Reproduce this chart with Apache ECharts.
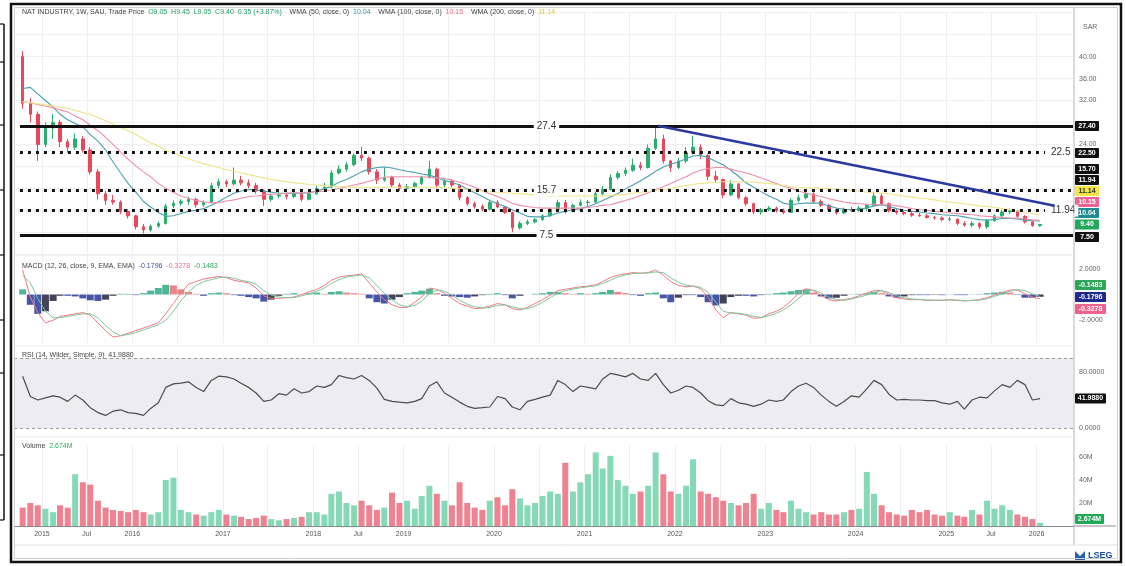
<!DOCTYPE html>
<html><head><meta charset="utf-8">
<script src="https://cdn.jsdelivr.net/npm/echarts@6/dist/echarts.min.js"></script>
<style>html,body{margin:0;padding:0;background:#fff}#c{width:1126px;height:566px}</style>
</head><body><div id="c"></div>
<script>
// ---------- DATA (monthly, Oct 2014 .. Jan 2026) ----------
const startYear = 2014, startMonth = 9; // October (0-based month)
const opens = [40,31.5,29.5,
24,27,28,24.5,23.5,25,23,19,15,13.8,13.5,11.8,
11,9,8.4,9.1,9.6,12.8,13.3,13.6,14,13,13.4,16.5,
17.2,16.8,17.5,17,16.5,15.5,14,14.6,14.8,14.5,15,14,
15,16,16.2,18.8,19.5,20.3,22,21.5,19,17.5,18,16.6,
16,16.3,16.9,18,19.5,16.6,17.3,16.6,14.3,13.2,12.7,12.2,
13.4,12.6,11.6,8.8,9.6,9.9,10.3,11,12.2,13.4,11.8,12.9,
13.4,13.5,15,15.8,18,18.7,19.3,20.2,19.8,23.3,25,21,
19.8,21,22.5,23.5,22,18.2,17.6,14.8,16.8,14.3,13.2,11.7,
12.1,12.4,11.9,11.6,13.8,14.3,15,13.6,12.9,12.1,11.5,12.2,
12,12.4,12.9,14.6,13.2,11.9,11.6,11.4,11.1,11,10.7,10.6,
10.3,10.4,9.6,9.3,9.6,9,10.1,11,11.7,11.9,10.9,9.9,
9.2];
const highs = [41,32.5,30,
28,29.5,28.5,25,26,25.5,23.5,19.5,15.5,14.8,13.8,12.2,
11.2,9.5,9.4,10,13.2,13.8,14,14.5,14.3,13.8,17,17.8,
17.6,19.8,18.3,17.6,17,15.8,15,15.3,15.2,15.5,15.3,15.4,
16.5,17,19.3,20.2,20.8,22.4,23.6,21.8,19.5,19.8,18.3,17,
16.8,17.2,18.3,21,19.8,17.8,17.7,16.8,14.6,13.6,13.1,13.9,
13.9,12.8,11.8,10,10.3,10.6,11.3,12.5,13.9,13.9,13.2,14,
13.9,15.4,16.4,18.5,19.2,19.8,21.4,20.8,24,27.4,25.8,21.2,
21.6,23.5,25.6,24,22.3,19.2,17.8,17.5,17,14.6,13.4,12.4,
12.8,12.7,12.3,14.2,14.8,15.6,15.3,14,13.2,12.3,12.5,12.6,
12.8,13.2,15.4,15,13.4,12.2,11.9,11.7,11.5,11.3,11,10.9,
10.8,10.5,10,10,9.8,10.4,11.3,12.1,12.3,12.1,11.1,10,
9.45];
const lows = [30.5,28,21,
23.5,25,23.5,22.5,23,22.5,18.5,14,13,13,11.3,10.5,
8.5,7.8,8.1,8.8,9.4,12.4,12.8,13,12.5,12.6,13.2,16,
16.2,16.5,16.5,16,15,12.8,13.6,14.2,14,14.2,13.6,13.8,
14.8,15.6,16,18.5,19,20,21,18.5,16.8,17.2,16.2,15.5,
15.4,16,16.6,17.8,16,16.2,16.2,13.8,12.8,12.3,11.8,12,
12.4,11.3,8,8.5,9.3,9.6,10.1,10.8,12,11.4,11.6,12.7,
12.8,13.3,14.7,15.6,17.6,18.3,19,19.3,19.6,23,20.5,19,
19.5,20.6,22.2,21.3,17.5,17,14.2,14.6,14,12.8,11.3,11.2,
11.8,11.6,11.3,11.5,13.4,14,13.2,12.6,11.8,11.2,11.3,11.7,
11.7,11.9,12.7,12.8,11.6,11.2,11.1,10.8,10.8,10.5,10.3,10,
10,9.3,9,8.9,8.6,8.6,9.9,10.8,11.3,10.6,9.6,9,
9.0];
const closes = [31.5,29.5,24,
27,28,24.5,23.5,25,23,19,15,13.8,13.5,11.8,11,
9,8.4,9.1,9.6,12.8,13.3,13.6,14,13,13.4,16.5,17.2,
16.8,17.5,17,16.5,15.5,14,14.6,14.8,14.5,15,14,15,
16,16.2,18.8,19.5,20.3,22,21.5,19,17.5,18,16.6,16,
16.3,16.9,18,19.5,16.6,17.3,16.6,14.3,13.2,12.7,12.2,13.4,
12.6,11.6,8.8,9.6,9.9,10.3,11,12.2,13.4,11.8,12.9,13.4,
13.5,15,15.8,18,18.7,19.3,20.2,19.8,23.3,25,21,19.8,
21,22.5,23.5,22,18.2,17.6,14.8,16.8,14.3,13.2,11.7,12.1,
12.4,11.9,11.6,13.8,14.3,15,13.6,12.9,12.1,11.5,12.2,12,
12.4,12.9,14.6,13.2,11.9,11.6,11.4,11.1,11,10.7,10.6,10.3,
10.4,9.6,9.3,9.6,9,10.1,11,11.7,11.9,10.9,9.9,9.2,
9.4];
const volumes = [16,20,18,
15,12,18,16,45,38,36,22,16,14,13,12,
14,12,10,12,40,42,14,12,10,9,12,14,
10,9,8,6,7,9,6,5,6,7,8,12,
12,10,28,30,20,18,22,18,14,16,29,20,
22,15,26,35,28,22,18,38,20,16,14,22,
25,18,32,24,18,20,26,30,28,55,30,38,
45,64,50,61,40,35,28,30,35,64,45,30,
28,35,58,30,28,25,22,20,18,20,28,15,
20,14,12,22,15,12,10,12,10,10,12,14,
15,47,28,18,12,10,9,14,12,14,10,9,
12,9,8,14,10,22,15,18,14,10,8,6,
2.674];
const wma50 = [34.2,34.4,33.2,
32,30.8,29.5,28.5,27.8,27.2,25.8,24.6,23,20.8,18.8,16.9,
15.3,13.6,12.6,11.6,10.9,11.0,11.4,11.8,12.0,12.3,12.9,13.6,
14.4,15.1,15.5,15.8,15.7,15.5,15.3,15.1,15.1,15.1,15.1,15.2,
15.5,15.9,16.4,17.1,17.6,18.3,19.0,19.5,19.8,19.9,19.7,19.4,
19.1,18.9,18.6,18.4,18.0,17.4,17.1,16.6,15.9,15.2,14.5,13.8,
13.2,12.7,12.1,11.5,10.9,10.8,10.8,11.0,11.5,11.8,12.1,12.3,
12.7,13.2,13.8,14.4,15.0,15.9,16.6,17.4,18.2,19.1,19.9,20.4,
20.8,21.4,21.9,22.0,21.6,20.9,20.3,19.3,18.2,17.0,16.2,15.4,
14.6,14.0,13.3,13.0,13.2,13.3,13.3,13.3,12.8,12.4,12.2,12.1,
12.2,12.4,12.8,13.0,12.7,12.3,12.0,11.8,11.7,11.5,11.4,11.2,
11.1,11.0,10.8,10.5,10.3,10.2,10.3,10.5,10.5,10.4,10.2,10.1,
10.04];
const wma100 = [31.8,31.6,31.3,
31.0,30.7,30.3,29.9,29.2,28.5,27.5,26.5,25.3,24.0,22.6,21.3,
20.1,19.0,18.1,16.9,16.0,15.3,14.6,14.2,13.8,13.5,13.4,13.4,
13.7,13.9,14.2,14.5,14.6,14.8,14.9,15.0,15.1,15.2,15.2,15.3,
15.4,15.5,15.7,16.0,16.3,16.6,16.9,17.3,17.7,18.0,18.1,18.1,
18.1,18.1,18.1,18.0,17.9,17.8,17.5,17.1,16.7,16.2,15.6,15.0,
14.5,13.9,13.3,12.9,12.7,12.5,12.4,12.4,12.4,12.4,12.4,12.4,
12.5,12.7,12.9,13.0,13.4,13.8,14.2,14.7,15.2,15.8,16.3,16.9,
17.5,18.1,18.8,19.3,19.6,19.8,19.8,19.5,19.1,18.8,18.4,17.9,
17.4,16.9,16.4,16.0,15.5,15.1,14.8,14.5,14.1,13.8,13.5,13.3,
13.2,13.1,13.1,13.0,13.0,12.8,12.6,12.3,12.1,12.0,11.8,11.7,
11.5,11.4,11.3,11.2,11.0,10.9,10.8,10.7,10.6,10.6,10.4,10.25,
10.15];
const wma200 = [31.8,31.6,31.4,
31.2,31.0,30.8,30.6,30.2,29.8,29.4,28.9,28.3,27.7,27.1,26.5,
25.8,25.0,24.3,23.7,23.0,22.4,21.9,21.4,20.9,20.5,20.1,19.8,
19.4,19.1,18.8,18.5,18.2,17.9,17.6,17.4,17.2,17.0,16.9,16.7,
16.6,16.5,16.4,16.3,16.3,16.2,16.2,16.2,16.2,16.2,16.2,16.2,
16.2,16.2,16.2,16.2,16.2,16.1,16.0,15.9,15.8,15.6,15.5,15.4,
15.3,15.2,15.1,15.0,14.9,14.8,14.7,14.6,14.6,14.6,14.6,14.6,
14.6,14.6,14.6,14.7,14.8,14.9,15.1,15.3,15.4,15.6,15.8,16.0,
16.3,16.5,16.7,16.9,17.0,17.1,17.2,17.2,17.2,17.2,17.1,17.0,
16.9,16.7,16.5,16.3,16.2,16.1,16.1,16.0,15.9,15.8,15.8,15.6,
15.5,15.3,15.2,15.1,15.0,14.8,14.6,14.4,14.2,14.1,13.9,13.7,
13.5,13.3,13.2,13.0,12.8,12.7,12.5,12.3,12.1,11.9,11.6,11.4,
11.14];
const macdLine = [1.9,-0.2,-1.4,
-2.2,-2.0,-1.7,-1.6,-1.5,-1.4,-1.6,-2.2,-2.8,-3.3,-3.2,-3.0,
-2.8,-2.6,-2.4,-2.2,-1.5,-0.7,0.1,0.8,1.0,1.2,1.3,1.4,
1.3,1.1,1.0,0.9,0.5,-0.1,-0.3,-0.3,-0.25,-0.2,0.0,0.2,
0.4,0.7,1.1,1.35,1.45,1.5,1.6,0.9,0.2,-0.4,-0.8,-1.0,
-1.0,-0.6,-0.2,0.5,0.4,0.1,-0.3,-0.7,-0.9,-1.1,-1.05,-0.9,
-0.7,-0.8,-1.1,-1.2,-1.0,-0.7,-0.4,-0.05,0.3,0.4,0.5,0.6,
0.65,0.75,1.0,1.3,1.5,1.6,1.7,1.65,1.7,1.9,1.5,1.0,
0.7,0.6,0.65,0.45,-0.2,-1.2,-1.8,-1.4,-1.5,-1.6,-1.85,-1.8,
-1.5,-1.3,-1.0,-0.5,0.1,0.45,0.3,-0.1,-0.4,-0.5,-0.4,-0.3,
-0.1,0.1,0.3,0.3,0.0,-0.25,-0.35,-0.4,-0.4,-0.45,-0.45,-0.45,
-0.4,-0.45,-0.5,-0.45,-0.4,-0.25,-0.05,0.15,0.35,0.35,0.05,-0.2,
-0.33];
const signalLine = [1.5,0.9,-0.3,
-1.3,-1.8,-1.8,-1.7,-1.6,-1.5,-1.5,-1.8,-2.4,-2.9,-3.2,-3.1,
-2.95,-2.75,-2.55,-2.35,-2.0,-1.3,-0.5,0.2,0.7,1.0,1.15,1.3,
1.35,1.25,1.1,1.0,0.8,0.3,-0.05,-0.2,-0.25,-0.25,-0.1,0.05,
0.25,0.5,0.85,1.15,1.35,1.45,1.5,1.3,0.7,0.1,-0.4,-0.8,
-0.95,-0.85,-0.5,0.05,0.35,0.25,-0.05,-0.45,-0.75,-0.95,-1.05,-1.0,
-0.85,-0.8,-0.95,-1.1,-1.1,-0.9,-0.6,-0.25,0.1,0.3,0.42,0.52,
0.6,0.68,0.85,1.1,1.35,1.5,1.62,1.65,1.67,1.75,1.7,1.3,
0.95,0.72,0.65,0.55,0.15,-0.6,-1.3,-1.45,-1.45,-1.55,-1.7,-1.78,
-1.65,-1.45,-1.2,-0.8,-0.3,0.2,0.35,0.1,-0.2,-0.4,-0.45,-0.35,
-0.2,-0.05,0.15,0.3,0.15,-0.1,-0.25,-0.35,-0.38,-0.42,-0.44,-0.45,
-0.43,-0.44,-0.47,-0.47,-0.43,-0.33,-0.15,0.05,0.25,0.38,0.3,0.05,
-0.15];
const macdHist = [0.4,-0.8,-1.5,
-1.3,-0.5,-0.1,-0.1,-0.15,-0.3,-0.45,-0.5,-0.4,-0.1,0.05,0.05,
-0.05,0.1,0.3,0.5,0.75,0.7,0.4,0.2,0.05,-0.1,0.1,0.15,
0.1,-0.05,-0.1,-0.2,-0.3,-0.55,-0.4,-0.1,0.05,0.1,0.02,0.1,
0.15,0.05,0.2,0.25,0.15,0.1,0.05,-0.3,-0.6,-0.7,-0.4,-0.2,
0.1,0.2,0.3,0.45,0.1,-0.1,-0.15,-0.2,-0.25,-0.15,-0.05,0.05,
0.1,-0.05,-0.3,-0.1,0,0.05,0.1,0.2,0.2,0.1,0.05,0.1,
0.05,0.1,0.2,0.35,0.2,0.1,-0.05,-0.1,0.1,0.15,-0.3,-0.6,
-0.25,-0.05,-0.05,-0.2,-0.6,-0.85,-0.7,-0.2,-0.1,-0.1,-0.15,-0.05,
0.05,0.1,0.15,0.25,0.35,0.4,0.15,-0.15,-0.3,-0.25,-0.1,0.02,
0.05,0.1,0.2,0.1,-0.15,-0.25,-0.15,-0.05,-0.05,-0.05,-0.03,-0.05,
0.02,-0.05,-0.05,0.02,-0.02,0.1,0.15,0.2,0.15,-0.03,-0.25,-0.25,
-0.18];
const rsi = [74,45,40,
43,46,44,38,47,40,29,22,18,24,26,22,
21,18,28,36,58,63,64,66,58,52,68,74,
73,70,64,58,50,38,40,49,47,56,50,52,
60,58,62,75,72,70,75,68,57,41,38,37,
36,38,42,60,66,50,44,37,31,28,29,30,
45,42,30,26,38,41,44,47,68,62,52,60,
58,56,70,78,76,73,78,70,68,78,62,50,
54,60,58,50,39,33,32,42,36,34,31,34,
40,38,40,52,60,64,58,47,38,31,38,46,
44,56,68,62,48,40,41,40,40,39,39,36,
34,38,27,40,44,43,53,62,58,68,62,40,
42];
// drawn levels and trendline
const levelValues = [27.4, 22.5, 15.7, 11.94, 7.5];
const levelLabels = ['27.4', '22.5', '15.7', '11.94', '7.5'];
const trendPoints = [[Date.UTC(2021, 9, 24), 27.4], [Date.UTC(2026, 2, 15), 12.84]];
// axis tick labels
const priceTicks = [24, 32, 36, 40];
const macdTicks = [2, -2];
const rsiTicks = [80, 0];
const volTicks = [20, 40, 60];
const xLabelDates = [[2015,0],[2015,6],[2016,0],[2017,0],[2018,0],[2018,6],[2019,0],[2020,0],[2021,0],[2022,0],[2023,0],[2024,0],[2025,0],[2025,6],[2026,0]];

// ---------- BUILD ----------
const F = 'Liberation Sans, Arial, sans-serif';
const dates = opens.map((_, i) => Date.UTC(startYear, startMonth + i, 15));
const X_MIN = Date.UTC(2014, 8, 10), X_MAX = Date.UTC(2026, 4, 28);
const LINE_START = Date.UTC(2014, 9, 4), DOT_END = Date.UTC(2026, 1, 4);
const G = {left: 14, right: 53};
const grids = [
  Object.assign({top: 12.7, height: 241.5}, G),
  Object.assign({top: 255.8, height: 87.7}, G),
  Object.assign({top: 358, height: 70}, G),
  Object.assign({top: 445.5, height: 80.5}, G)
];
const halfYears = [];
for (let y = 2015; y <= 2026; y++) { halfYears.push(Date.UTC(y, 0, 1)); if (y < 2026) halfYears.push(Date.UTC(y, 6, 1)); }

const xAxes = grids.map((g, i) => ({
  type: 'value', gridIndex: i, min: X_MIN, max: X_MAX, scale: true,
  axisLine: {show: i === 3, onZero: false, lineStyle: {color: '#8a8a8a', width: 1}},
  axisTick: {show: false}, splitLine: {show: false},
  axisLabel: i === 3 ? {
    show: true, customValues: xLabelDates.map(d => Date.UTC(d[0], d[1], 1)),
    formatter: v => { const d = new Date(v); return d.getUTCMonth() === 0 ? String(d.getUTCFullYear()) : 'Jul'; },
    fontSize: 7, color: '#555', fontFamily: F, margin: 5
  } : {show: false}
}));
const yCommon = {position: 'right', axisLine: {show: false}, axisTick: {show: false}};
const yAxes = [
  Object.assign({gridIndex: 0, min: 4, max: 48, interval: 4,
    axisLabel: {fontSize: 7, color: '#666', fontFamily: F, margin: 6, formatter: v => priceTicks.indexOf(v) >= 0 ? v.toFixed(2) : ''},
    splitLine: {show: true, lineStyle: {color: '#f1f1f1', width: 1}}}, yCommon),
  Object.assign({gridIndex: 1, min: -3.8, max: 3.0,
    axisLabel: {customValues: macdTicks, fontSize: 7, color: '#666', fontFamily: F, margin: 6, formatter: v => v.toFixed(4)},
    splitLine: {show: false}}, yCommon),
  Object.assign({gridIndex: 2, min: 0, max: 100,
    axisLabel: {customValues: rsiTicks, fontSize: 7, color: '#666', fontFamily: F, margin: 6, formatter: v => v.toFixed(4)},
    splitLine: {show: false}}, yCommon),
  Object.assign({gridIndex: 3, min: 0, max: 70,
    axisLabel: {customValues: volTicks, fontSize: 7, color: '#666', fontFamily: F, margin: 6, formatter: v => v + 'M'},
    splitLine: {show: false}}, yCommon)
];

const series = [];
// faint vertical gridlines in each pane
grids.forEach((g, i) => series.push({
  type: 'line', xAxisIndex: i, yAxisIndex: i, data: [], silent: true,
  markLine: {silent: true, symbol: ['none', 'none'], z: 1, label: {show: false},
    lineStyle: {color: '#efefef', width: 1, type: 'solid'}, data: halfYears.map(t => ({xAxis: t}))}
}));
// candles
series.push({
  type: 'candlestick', xAxisIndex: 0, yAxisIndex: 0, z: 2, barWidth: 3,
  encode: {x: 0, y: [1, 2, 3, 4]},
  data: dates.map((d, i) => [d, opens[i], closes[i], lows[i], highs[i]]),
  itemStyle: {color: '#2aae6c', color0: '#e8485c', borderColor: '#2aae6c', borderColor0: '#e8485c', borderWidth: 1}
});
// WMA lines
[[wma50, '#4aa0ad'], [wma100, '#f08daa'], [wma200, '#efe38a']].forEach(([arr, col]) => series.push({
  type: 'line', xAxisIndex: 0, yAxisIndex: 0, z: 3, showSymbol: false, silent: true,
  data: dates.map((d, i) => [d, arr[i]]), lineStyle: {color: col, width: 1.1}
}));
// horizontal levels
const solid = {color: '#111', width: 3, type: 'solid'};
const dotted = {color: '#111', width: 3, type: [3, 5]};
const lvlLabel = (txt, pos) => ({show: true, formatter: txt, position: pos, color: '#333', fontSize: 10, fontFamily: F,
  backgroundColor: '#fff', padding: [1, 3], distance: 3});
series.push({
  type: 'line', xAxisIndex: 0, yAxisIndex: 0, data: [], silent: true, z: 5,
  markLine: {silent: true, symbol: ['none', 'none'], z: 5, data: levelValues.map((v, k) => {
    const isDot = (k === 1 || k === 2 || k === 3);
    const endAtLabel = (k === 1 || k === 3);
    return [
      {coord: [LINE_START, v], lineStyle: isDot ? dotted : solid,
       label: lvlLabel(levelLabels[k], endAtLabel ? 'end' : 'insideMiddle')},
      {coord: [endAtLabel ? DOT_END : X_MAX, v]}
    ];
  })}
});
// trendline
series.push({type: 'line', xAxisIndex: 0, yAxisIndex: 0, z: 6, silent: true, showSymbol: false,
  data: trendPoints, lineStyle: {color: '#2b3a9e', width: 2.5}});
// MACD
series.push({type: 'bar', xAxisIndex: 1, yAxisIndex: 1, barWidth: 7, silent: true,
  data: dates.map((d, i) => [d, macdHist[i]]),
  itemStyle: {opacity: 0.9, color: p => { const i = p.dataIndex, v = macdHist[i], pv = i ? macdHist[i - 1] : 0;
    if (v >= 0) return v >= pv ? '#3aae8c' : '#e5787c'; return v <= pv ? '#34429c' : '#2d2f45'; }}});
series.push({type: 'line', xAxisIndex: 1, yAxisIndex: 1, showSymbol: false, silent: true, z: 3,
  data: dates.map((d, i) => [d, macdLine[i]]), lineStyle: {color: '#f07a86', width: 1}});
series.push({type: 'line', xAxisIndex: 1, yAxisIndex: 1, showSymbol: false, silent: true, z: 3,
  data: dates.map((d, i) => [d, signalLine[i]]), lineStyle: {color: '#7fc79b', width: 1}});
// RSI
series.push({type: 'line', xAxisIndex: 2, yAxisIndex: 2, showSymbol: false, silent: true, z: 3,
  data: dates.map((d, i) => [d, rsi[i]]), lineStyle: {color: '#4e4e4e', width: 1.2},
  markArea: {silent: true, itemStyle: {color: '#ececf1'}, data: [[{yAxis: 0}, {yAxis: 100}]]},
  markLine: {silent: true, symbol: ['none', 'none'], label: {show: false},
    lineStyle: {color: '#9a9a9a', width: 1, type: [3, 3]}, data: [{yAxis: 0}, {yAxis: 100}]}});
// Volume
series.push({type: 'bar', xAxisIndex: 3, yAxisIndex: 3, barWidth: 6, silent: true,
  data: dates.map((d, i) => [d, volumes[i]]),
  itemStyle: {color: p => closes[p.dataIndex] >= opens[p.dataIndex] ? '#86d9b6' : '#ef8190'}});

// ---------- GRAPHIC (frame, headers, price tags) ----------
function tag(y, text, bg, fg, w) {
  return {type: 'group', x: 1075, y: y - 5, z: 100, children: [
    {type: 'rect', shape: {x: 0, y: 0, width: w, height: 10, r: 1}, style: {fill: bg}},
    {type: 'text', x: w / 2, y: 5, style: {text: text, fill: fg, fontSize: 7, fontFamily: F, fontWeight: 'bold', align: 'center', verticalAlign: 'middle'}}
  ]};
}
function header(y, rich, text) {
  return {type: 'text', x: 22, y: y, z: 100, style: {text: text, rich: rich, fontSize: 7, fontFamily: F, fill: '#444', verticalAlign: 'middle'}};
}
const r = c => ({fill: c, fontSize: 7, fontFamily: F});
const graphic = [
  header(12, {g: r('#444'), o: r('#1f9f68'), t: r('#2a9ba3'), p: r('#ef6b8f'), y: r('#d9c640')},
    '{g|NAT INDUSTRY, 1W, SAU, Trade Price  }{o|O9.05  H9.45  L9.05  C9.40  0.35 (+3.87%)}{g|    WMA (50, close, 0)  }{t|10.04}{g|    WMA (100, close, 0)  }{p|10.15}{g|    WMA (200, close, 0)  }{y|11.14}'),
  header(266, {g: r('#444'), b: r('#3b4bb0'), p: r('#ef6b8f'), n: r('#2eae62')},
    '{g|MACD (12, 26, close, 9, EMA, EMA)  }{b|-0.1796}{g|  }{p|-0.3278}{g|  }{n|-0.1483}'),
  header(355, {g: r('#444')}, '{g|RSI (14, Wilder, Simple, 9)  41.9880}'),
  header(446, {g: r('#444'), n: r('#2eae62')}, '{g|Volume  }{n|2.674M}'),
  {type: 'text', x: 1083, y: 27, z: 100, style: {text: 'SAR', fill: '#666', fontSize: 7, fontFamily: F, verticalAlign: 'middle'}},
  {type: 'line', z: 90, shape: {x1: 1074, y1: 8, x2: 1074, y2: 545}, style: {stroke: '#b5b5b5', lineWidth: 1}},
  {type: 'line', z: 90, shape: {x1: 14, y1: 545, x2: 1117, y2: 545}, style: {stroke: '#e2e2e2', lineWidth: 1}},
  {type: 'line', z: 90, shape: {x1: 1074, y1: 526, x2: 1116, y2: 526}, style: {stroke: '#8a8a8a', lineWidth: 1}},
  {type: 'line', z: 90, shape: {x1: 14, y1: 255, x2: 1074, y2: 255}, style: {stroke: '#ececec', lineWidth: 1}},
  {type: 'line', z: 90, shape: {x1: 14, y1: 346, x2: 1074, y2: 346}, style: {stroke: '#ececec', lineWidth: 1}},
  {type: 'line', z: 90, shape: {x1: 14, y1: 437, x2: 1074, y2: 437}, style: {stroke: '#ececec', lineWidth: 1}},
  tag(126, '27.40', '#111', '#fff', 24),
  tag(153, '22.50', '#111', '#fff', 24),
  tag(169, '15.70', '#111', '#fff', 24),
  tag(180, '11.94', '#111', '#fff', 24),
  tag(191, '11.14', '#f3e645', '#333', 24),
  tag(202, '10.15', '#f06292', '#fff', 24),
  tag(213, '10.04', '#1f8b92', '#fff', 24),
  tag(224.5, '9.40', '#22a85a', '#fff', 24),
  tag(237, '7.50', '#111', '#fff', 24),
  tag(285, '-0.1483', '#2ea65a', '#fff', 31),
  tag(297, '-0.1796', '#1d2a8e', '#fff', 31),
  tag(309, '-0.3278', '#f0628e', '#fff', 31),
  tag(398.5, '41.9880', '#111', '#fff', 31),
  tag(519, '2.674M', '#1fa855', '#fff', 29),
  {type: 'polygon', z: 100, shape: {points: [[1075,551],[1080,556],[1085,551],[1085,560],[1075,560]]}, style: {fill: '#2d5fb0'}},
  {type: 'text', x: 1088, y: 556, z: 100, style: {text: 'LSEG', fill: '#1e4f9e', fontSize: 9, fontWeight: 'bold', fontFamily: F, verticalAlign: 'middle'}},
  {type: 'rect', z: 200, shape: {x: 14.5, y: 7.5, width: 1103, height: 551}, style: {fill: 'none', stroke: '#cfcfcf', lineWidth: 1}},
  {type: 'rect', z: 201, shape: {x: 11, y: 4, width: 1110, height: 558}, style: {fill: 'none', stroke: '#111', lineWidth: 2.5}},
  {type: 'line', z: 201, shape: {x1: 4, y1: 24, x2: 4, y2: 520}, style: {stroke: '#111', lineWidth: 1.5}}
].concat([24, 62, 125, 190, 255, 320, 373, 455, 520].map(y => ({type: 'line', z: 201, shape: {x1: 0, y1: y, x2: 4, y2: y}, style: {stroke: '#111', lineWidth: 1.2}})));

const chart = echarts.init(document.getElementById('c'), null, {renderer: 'canvas'});
chart.setOption({
  animation: false, backgroundColor: '#fff',
  grid: grids, xAxis: xAxes, yAxis: yAxes, series: series, graphic: graphic
});
</script></body></html>
